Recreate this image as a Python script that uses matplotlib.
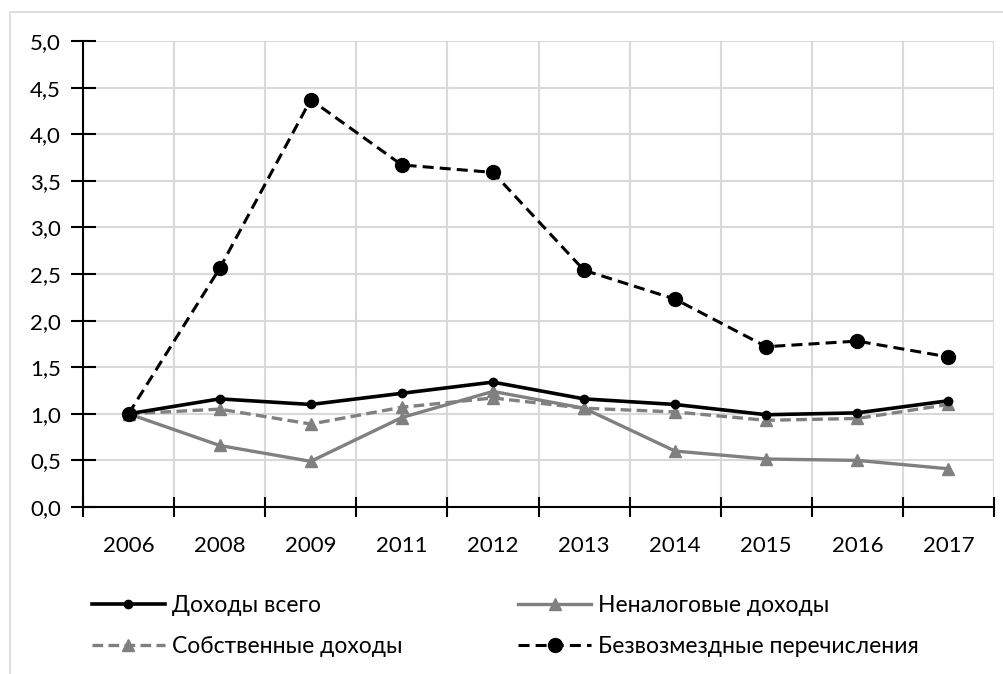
import matplotlib
matplotlib.use("Agg")
import matplotlib.pyplot as plt
from matplotlib.patches import Rectangle
from matplotlib.ticker import FixedLocator, FuncFormatter

plt.rcParams['font.family'] = ['Lato', 'DejaVu Sans']

years = ['2006', '2008', '2009', '2011', '2012', '2013', '2014', '2015', '2016', '2017']
total_income = [1.00, 1.16, 1.10, 1.22, 1.34, 1.16, 1.10, 0.99, 1.01, 1.14]
own_income = [1.00, 1.05, 0.89, 1.07, 1.17, 1.06, 1.02, 0.93, 0.95, 1.10]
nontax_income = [1.00, 0.66, 0.49, 0.96, 1.24, 1.06, 0.60, 0.515, 0.50, 0.41]
transfers = [1.00, 2.56, 4.37, 3.67, 3.59, 2.54, 2.23, 1.72, 1.78, 1.61]
y_ticks = [0.0, 0.5, 1.0, 1.5, 2.0, 2.5, 3.0, 3.5, 4.0, 4.5, 5.0]

labels = ['Доходы всего', 'Собственные доходы', 'Неналоговые доходы', 'Безвозмездные перечисления']

fig = plt.figure(figsize=(10.04, 6.74), dpi=100)
ax = fig.add_axes([83/1004, 1-507/674, (994-83)/1004, (507-41)/674])

# outer chart border
fig.patches.append(Rectangle((9.5/1004, -0.1), 1.2, 1-11.5/674+0.1, transform=fig.transFigure,
                             fill=False, edgecolor='#d9d9d9', linewidth=1.2))

x = list(range(len(years)))
gray = '#808080'
l1, = ax.plot(x, total_income, color='black', lw=2.6, marker='o', ms=6, zorder=5)
l2, = ax.plot(x, own_income, color=gray, lw=2.4, ls=(0, (3.2, 1.6)), marker='^', ms=9, zorder=3)
l3, = ax.plot(x, nontax_income, color=gray, lw=2.4, marker='^', ms=9, zorder=4)
l4, = ax.plot(x, transfers, color='black', lw=2.2, ls=(0, (3.6, 2.0)), marker='o', ms=10, zorder=6)

ax.set_xlim(-0.5, len(years) - 0.5)
ax.set_ylim(0, 5)
ax.yaxis.set_major_locator(FixedLocator(y_ticks))
ax.yaxis.set_major_formatter(FuncFormatter(lambda v, p: f"{v:.1f}".replace('.', ',')))
ax.set_xticks([i - 0.5 for i in range(len(years) + 1)])
ax.set_xticklabels([])
ax.set_xticks(x, minor=True)
ax.set_xticklabels(years, minor=True)
ax.tick_params(axis='x', which='minor', length=0, pad=21, labelsize=16)
ax.tick_params(axis='x', which='major', direction='inout', length=15, width=1.5, color='black')
ax.tick_params(axis='y', direction='inout', length=18, width=1.5, color='black', labelsize=16, pad=7)

ax.grid(True, which='major', color='#d9d9d9', lw=1.5)
ax.set_axisbelow(True)
for s in ['top', 'right']:
    ax.spines[s].set_visible(False)
ax.spines['left'].set_linewidth(1.5)
ax.spines['bottom'].set_linewidth(1.5)

fig.legend([l1, l2, l3, l4], labels, ncol=2, loc='upper left',
           bbox_to_anchor=(71/1004, 1-574/674), frameon=False, fontsize=16.5,
           handlelength=3.2, handletextpad=0.3, columnspacing=5.05, labelspacing=0.9)

fig.savefig('out.png', dpi=100)
